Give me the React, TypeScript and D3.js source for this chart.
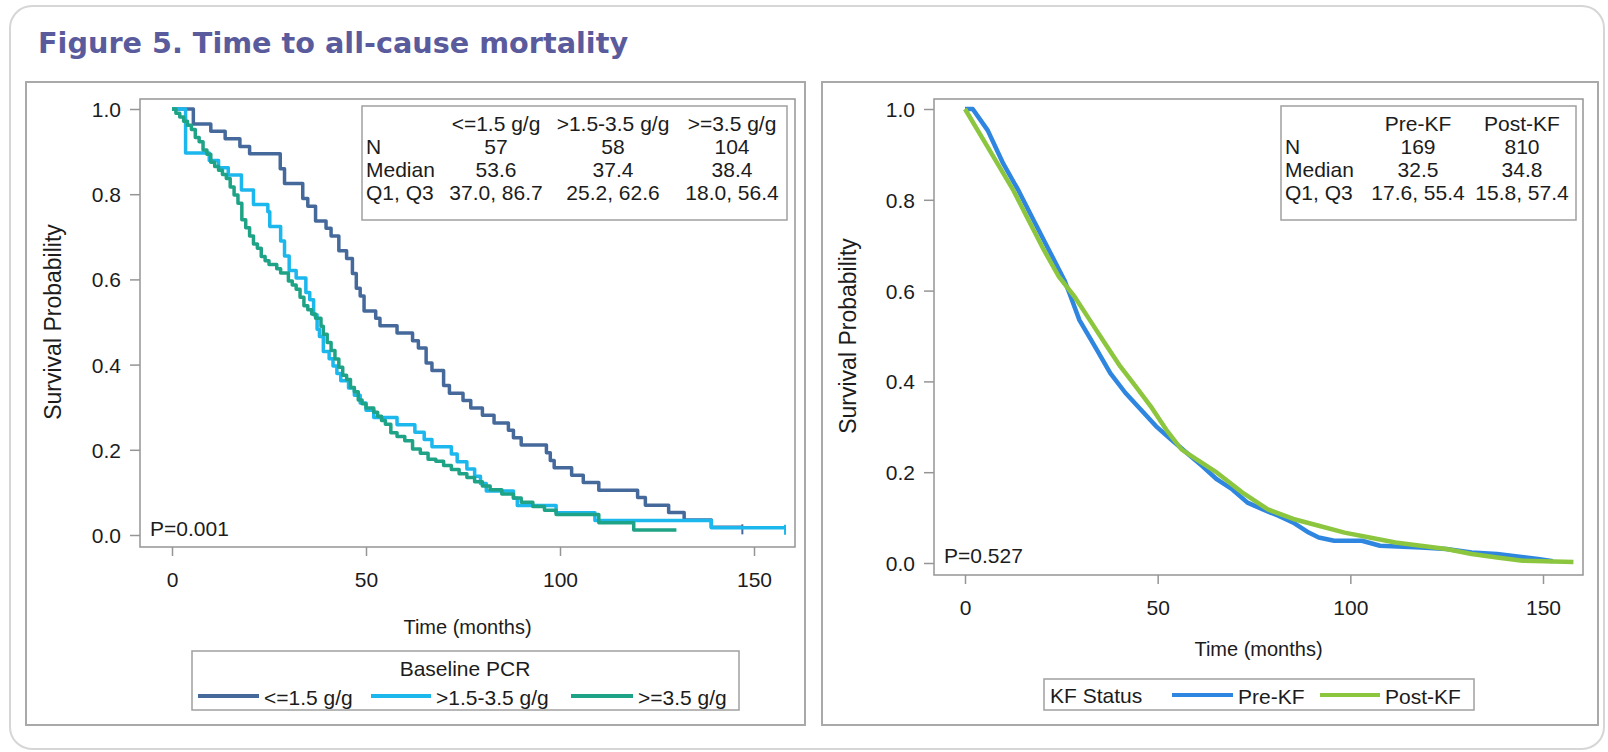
import React, { useEffect, useRef } from 'react';
import * as d3 from 'd3';

// ---- data ----
const xTicks = [0, 50, 100, 150];
const yTicks = [0, 0.2, 0.4, 0.6, 0.8, 1.0];

const pcrGroups = ['<=1.5 g/g', '>1.5-3.5 g/g', '>=3.5 g/g'];
const pcrColors = ['#46699c', '#1cb7ec', '#1fa386'];
const pcrN = ['57', '58', '104'];
const pcrMedian = ['53.6', '37.4', '38.4'];
const pcrQuartiles = ['37.0, 86.7', '25.2, 62.6', '18.0, 56.4'];

// [time, survival]
const pcrLowSurv = [
  [0, 1], [5.5, 0.965], [10, 0.948], [13.7, 0.93], [17.5, 0.912], [20, 0.895], [27.9, 0.86],
  [29, 0.825], [33.7, 0.79], [35, 0.772], [37, 0.737], [39.7, 0.72], [41, 0.702], [43, 0.667],
  [45, 0.649], [46.5, 0.614], [47.5, 0.579], [48.5, 0.561], [49.5, 0.526], [52.5, 0.509],
  [53.6, 0.491], [58, 0.474], [62, 0.456], [63.5, 0.439], [65.5, 0.404], [67, 0.386], [70, 0.351],
  [71.5, 0.333], [75, 0.316], [77, 0.298], [80, 0.281], [83, 0.263], [86.7, 0.246], [88, 0.228],
  [90, 0.211], [96.5, 0.193], [97.5, 0.175], [98.5, 0.158], [103, 0.14], [106, 0.123], [110, 0.105],
  [120, 0.088], [122, 0.07], [128, 0.053], [132, 0.035], [139, 0.018], [147, 0.018],
];
const pcrMidSurv = [
  [0, 1], [3.5, 0.897], [9.6, 0.879], [12, 0.862], [14.5, 0.845], [17.9, 0.81], [21, 0.776],
  [24.7, 0.759], [25.2, 0.724], [28, 0.69], [29, 0.655], [30.2, 0.621], [32, 0.603], [34.5, 0.569],
  [35.5, 0.552], [36.5, 0.517], [37.4, 0.483], [38, 0.466], [39, 0.431], [40.5, 0.414], [41.5, 0.397],
  [42.5, 0.379], [43.5, 0.362], [45.5, 0.345], [47, 0.328], [48.5, 0.31], [50, 0.293], [52, 0.276],
  [58, 0.259], [62.6, 0.241], [65, 0.224], [67, 0.207], [72, 0.19], [73.5, 0.172], [76, 0.155],
  [78, 0.138], [79.5, 0.121], [81, 0.103], [88, 0.086], [89, 0.069], [99, 0.052], [109, 0.034],
  [139, 0.017], [158, 0.017],
];
const pcrHighSurv = [
  [0, 1], [1, 0.99], [2, 0.981], [3, 0.971], [4, 0.962], [5, 0.952], [6, 0.933], [7, 0.923],
  [8, 0.904], [9, 0.894], [10, 0.875], [11, 0.865], [12, 0.856], [13, 0.846], [14, 0.837],
  [15, 0.817], [16, 0.798], [17, 0.779], [18, 0.74], [19, 0.721], [20, 0.702], [21, 0.683],
  [22, 0.673], [23, 0.654], [24, 0.644], [25, 0.635], [27, 0.625], [28, 0.615], [30, 0.596],
  [31, 0.587], [32, 0.577], [33, 0.558], [34, 0.538], [35, 0.529], [36, 0.519], [37, 0.509],
  [38.4, 0.49], [39, 0.471], [40, 0.452], [41, 0.433], [42, 0.413], [43, 0.394], [44, 0.375],
  [45, 0.365], [46, 0.346], [47, 0.336], [48, 0.317], [49, 0.308], [50, 0.298], [52, 0.288],
  [53, 0.279], [54, 0.269], [55, 0.26], [56.4, 0.24], [58, 0.231], [60, 0.221], [62, 0.202],
  [64, 0.192], [66, 0.178], [68, 0.173], [70, 0.163], [72, 0.154], [74, 0.144], [76, 0.135],
  [78, 0.125], [80, 0.115], [82, 0.106], [85, 0.096], [88, 0.087], [90, 0.077], [93, 0.067],
  [96, 0.058], [99, 0.048], [110, 0.029], [119, 0.012], [130, 0.012],
];
const pcrCensor = [[147], [158], []];

const kfGroups = ['Pre-KF', 'Post-KF'];
const kfColors = ['#2f86e0', '#8cc63f'];
const kfN = ['169', '810'];
const kfMedian = ['32.5', '34.8'];
const kfQuartiles = ['17.6, 55.4', '15.8, 57.4'];

const kfPreSurv = [
  [0, 1], [2, 1], [5.9, 0.953], [9.9, 0.88], [13.9, 0.82], [17.8, 0.755], [21.8, 0.689],
  [25.8, 0.623], [27.1, 0.594], [29.7, 0.535], [33.7, 0.477], [37.7, 0.418], [41.6, 0.375],
  [45.6, 0.338], [49.6, 0.301], [53.5, 0.272], [57.5, 0.243], [61.5, 0.214], [65.4, 0.184],
  [69.4, 0.162], [73.3, 0.133], [77.3, 0.118], [81.3, 0.104], [85.2, 0.089], [89.2, 0.067],
  [91.8, 0.056], [95.8, 0.049], [103, 0.049], [107.7, 0.038], [118.3, 0.034], [124.9, 0.031],
  [131.5, 0.023], [138.1, 0.02], [148.7, 0.009], [152.6, 0.004],
];
const kfPostSurv = [
  [0, 1], [5.9, 0.916], [12.6, 0.82], [16.5, 0.755], [20.5, 0.689], [24.4, 0.63], [28.4, 0.587],
  [32.4, 0.535], [36.3, 0.484], [40.3, 0.433], [44.3, 0.389], [48.2, 0.345], [52.2, 0.294],
  [56.2, 0.25], [60.1, 0.228], [65.4, 0.199], [72, 0.155], [78.6, 0.118], [85.2, 0.097],
  [91.8, 0.082], [98.5, 0.067], [105, 0.056], [111.7, 0.045], [118.3, 0.038], [124.9, 0.031],
  [131.5, 0.02], [138.1, 0.012], [144.7, 0.005], [157.9, 0.002],
];

const FONT = "'Liberation Sans', Arial, Helvetica, sans-serif";
const GRAY = '#959595';
const INK = '#1c1c1c';
const FS = 21;

function txt(g, x, y, s, anchor = 'start', size = FS) {
  return g
    .append('text')
    .attr('x', x)
    .attr('y', y)
    .attr('text-anchor', anchor)
    .attr('dominant-baseline', 'central')
    .attr('font-family', FONT)
    .attr('font-size', size)
    .attr('fill', INK)
    .text(s);
}

function drawPanel(svg, p) {
  const x = d3.scaleLinear().domain([0, 150]).range([p.x0, p.x150]);
  const y = d3.scaleLinear().domain([0, 1]).range([p.yZero, p.yOne]);
  const [fl, ft, fr, fb] = p.frame;

  // panel border
  svg
    .append('rect')
    .attr('x', p.panel[0])
    .attr('y', p.panel[1])
    .attr('width', p.panel[2] - p.panel[0])
    .attr('height', p.panel[3] - p.panel[1])
    .attr('fill', '#fff')
    .attr('stroke', '#a9a9a9')
    .attr('stroke-width', 2);

  // plot frame
  svg
    .append('rect')
    .attr('x', fl)
    .attr('y', ft)
    .attr('width', fr - fl)
    .attr('height', fb - ft)
    .attr('fill', 'none')
    .attr('stroke', GRAY)
    .attr('stroke-width', 1.5);

  // y axis
  const ya = svg
    .append('g')
    .attr('transform', `translate(${fl},0)`)
    .call(d3.axisLeft(y).tickValues(yTicks).tickFormat(d3.format('.1f')).tickSize(10).tickPadding(9));
  ya.select('.domain').remove();
  ya.selectAll('line').attr('stroke', GRAY).attr('stroke-width', 1.5);
  ya.selectAll('text')
    .attr('font-family', FONT)
    .attr('font-size', FS)
    .attr('fill', INK)
    .attr('dy', null)
    .attr('dominant-baseline', 'central');

  // x axis
  const xa = svg
    .append('g')
    .attr('transform', `translate(0,${fb})`)
    .call(d3.axisBottom(x).tickValues(xTicks).tickSize(9));
  xa.select('.domain').remove();
  xa.selectAll('line').attr('stroke', GRAY).attr('stroke-width', 1.5);
  xa.selectAll('text')
    .attr('font-family', FONT)
    .attr('font-size', FS)
    .attr('fill', INK)
    .attr('y', p.xLabelY - fb)
    .attr('dy', null)
    .attr('dominant-baseline', 'central');

  // axis titles
  txt(svg, 0, 0, 'Survival Probability', 'middle', 23).attr(
    'transform',
    `translate(${p.yTitle[0]},${p.yTitle[1]}) rotate(-90)`
  );
  txt(svg, (fl + fr) / 2, p.xTitleY, 'Time (months)', 'middle', 20);

  // curves
  p.series.forEach((s) => {
    const line = d3
      .line()
      .x((d) => x(d[0]))
      .y((d) => y(d[1]))
      .curve(s.step ? d3.curveStepAfter : d3.curveLinear);
    svg
      .append('path')
      .datum(s.data)
      .attr('d', line)
      .attr('fill', 'none')
      .attr('stroke', s.color)
      .attr('stroke-width', s.width)
      .attr('stroke-linejoin', 'round');
    (s.censor || []).forEach((t) => {
      const last = s.data.filter((d) => d[0] <= t).pop();
      svg
        .append('line')
        .attr('x1', x(t))
        .attr('x2', x(t))
        .attr('y1', y(last[1]) - 3)
        .attr('y2', y(last[1]) + 7)
        .attr('stroke', s.color)
        .attr('stroke-width', 2);
    });
  });

  // p-value
  txt(svg, p.pPos[0], p.pPos[1], p.pText);

  // stats table
  const t = p.table;
  svg
    .append('rect')
    .attr('x', t.box[0])
    .attr('y', t.box[1])
    .attr('width', t.box[2] - t.box[0])
    .attr('height', t.box[3] - t.box[1])
    .attr('fill', '#fff')
    .attr('stroke', '#a0a0a0')
    .attr('stroke-width', 1.5);
  t.header.forEach((h, i) => txt(svg, t.colX[i], t.rowY[0], h, 'middle'));
  ['N', 'Median', 'Q1, Q3'].forEach((lab, r) => {
    txt(svg, t.labelX, t.rowY[r + 1], lab);
    t.rows[r].forEach((v, i) => txt(svg, t.colX[i], t.rowY[r + 1], v, 'middle'));
  });

  // legend
  const L = p.legend;
  svg
    .append('rect')
    .attr('x', L.box[0])
    .attr('y', L.box[1])
    .attr('width', L.box[2] - L.box[0])
    .attr('height', L.box[3] - L.box[1])
    .attr('fill', '#fff')
    .attr('stroke', '#a0a0a0')
    .attr('stroke-width', 1.5);
  txt(svg, L.title[0], L.title[1], L.title[2], L.title[3]);
  L.items.forEach((it, i) => {
    svg
      .append('line')
      .attr('x1', it[0])
      .attr('x2', it[1])
      .attr('y1', L.itemY)
      .attr('y2', L.itemY)
      .attr('stroke', p.series[i].color)
      .attr('stroke-width', 4);
    txt(svg, it[1] + 5, L.itemY + 1, L.labels[i]);
  });
}

export default function App() {
  const svgRef = useRef(null);

  useEffect(() => {
    const svg = d3.select(svgRef.current);
    svg.selectAll('*').remove();

    svg.append('rect').attr('width', 1608).attr('height', 752).attr('fill', '#fff');
    svg
      .append('rect')
      .attr('x', 10)
      .attr('y', 6)
      .attr('width', 1594)
      .attr('height', 743)
      .attr('rx', 22)
      .attr('fill', '#fff')
      .attr('stroke', '#d6d6d6')
      .attr('stroke-width', 2);

    svg
      .append('text')
      .attr('x', 38)
      .attr('y', 53)
      .attr('font-family', "'DejaVu Sans', Verdana, sans-serif")
      .attr('font-weight', 'bold')
      .attr('font-size', 28.7)
      .attr('fill', '#5a5b9c')
      .text('Figure 5. Time to all-cause mortality');

    // Baseline PCR panel
    drawPanel(svg, {
      panel: [26, 82, 805, 725],
      frame: [140, 99, 795, 547],
      x0: 172,
      x150: 754,
      yZero: 535,
      yOne: 109,
      xLabelY: 579,
      xTitleY: 627,
      yTitle: [53, 322],
      pPos: [150, 528],
      pText: 'P=0.001',
      series: pcrGroups.map((g, i) => ({
        data: [pcrLowSurv, pcrMidSurv, pcrHighSurv][i],
        color: pcrColors[i],
        width: 3.5,
        step: true,
        censor: pcrCensor[i],
      })),
      table: {
        box: [362, 106, 787, 220],
        labelX: 366,
        colX: [496, 613, 732],
        rowY: [123, 146, 169, 192],
        header: pcrGroups,
        rows: [pcrN, pcrMedian, pcrQuartiles],
      },
      legend: {
        box: [192, 651, 739, 710],
        title: [465, 668, 'Baseline PCR', 'middle'],
        itemY: 696,
        items: [[198, 259], [371, 431], [571, 633]],
        labels: pcrGroups,
      },
    });

    // KF status panel
    drawPanel(svg, {
      panel: [822, 82, 1598, 725],
      frame: [934, 99, 1583, 575],
      x0: 965,
      x150: 1543,
      yZero: 563,
      yOne: 109,
      xLabelY: 607,
      xTitleY: 649,
      yTitle: [848, 336],
      pPos: [944, 555],
      pText: 'P=0.527',
      series: kfGroups.map((g, i) => ({
        data: [kfPreSurv, kfPostSurv][i],
        color: kfColors[i],
        width: 4.5,
        step: false,
      })),
      table: {
        box: [1281, 106, 1576, 220],
        labelX: 1285,
        colX: [1418, 1522],
        rowY: [123, 146, 169, 192],
        header: kfGroups,
        rows: [kfN, kfMedian, kfQuartiles],
      },
      legend: {
        box: [1044, 679, 1474, 710],
        title: [1050, 695, 'KF Status', 'start'],
        itemY: 695,
        items: [[1172, 1233], [1320, 1380]],
        labels: kfGroups,
      },
    });
  }, []);

  return (
    <svg
      ref={svgRef}
      width={1608}
      height={752}
      style={{ position: 'absolute', left: 0, top: 0 }}
    ></svg>
  );
}
